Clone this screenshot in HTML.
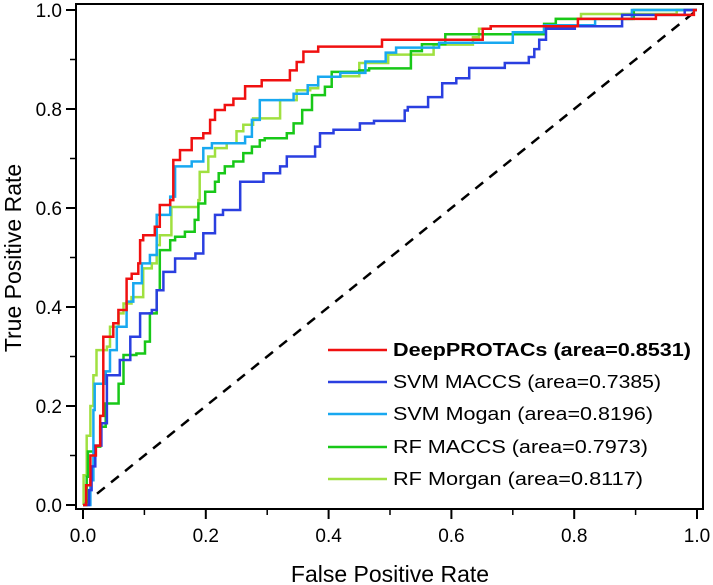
<!DOCTYPE html>
<html><head><meta charset="utf-8"><style>
body{margin:0;background:#fff;}
svg{display:block;font-family:"Liberation Sans",Arial,sans-serif;}
</style></head><body>
<svg id="chart" width="713" height="585" viewBox="0 0 713 585">
<g id="axes"></g>
<g id="series"></g>
<g id="legend"></g>
</svg>
<script>
const tickValues = [0,0.2,0.4,0.6,0.8,1.0];
const tickLabels = ["0.0","0.2","0.4","0.6","0.8","1.0"];
const minorTicks = [0.1,0.3,0.5,0.7,0.9];
const seriesNames = ["DeepPROTACs (area=0.8531)","SVM MACCS (area=0.7385)","SVM Mogan (area=0.8196)","RF MACCS (area=0.7973)","RF Morgan (area=0.8117)"];
const seriesColors = ["#f01010","#2a3fe0","#18a8f0","#18c818","#a0e040"];
const redFpr = [0,0.005,0.012,0.021,0.028,0.033,0.0494,0.0576,0.071,0.0793,0.09,0.093,0.098,0.117,0.125,0.142,0.147,0.158,0.177,0.196,0.207,0.215,0.231,0.245,0.264,0.291,0.337,0.348,0.359,0.383,0.487,0.651,0.664,0.806,0.933,0.995,1];
const redTpr = [0,0.04,0.1,0.12,0.18,0.34,0.367,0.394,0.457,0.467,0.488,0.535,0.545,0.562,0.606,0.616,0.697,0.717,0.741,0.751,0.778,0.798,0.808,0.821,0.846,0.858,0.878,0.895,0.916,0.926,0.94,0.962,0.967,0.982,0.99,1,1];
const blueFpr = [0,0.01,0.014,0.02,0.03,0.039,0.06,0.077,0.093,0.112,0.12,0.131,0.15,0.183,0.196,0.215,0.228,0.256,0.294,0.321,0.332,0.378,0.386,0.408,0.451,0.474,0.524,0.529,0.562,0.585,0.608,0.629,0.687,0.726,0.735,0.743,0.754,0.801,0.878,0.98,1];
const blueTpr = [0,0.03,0.078,0.12,0.165,0.262,0.293,0.34,0.387,0.394,0.434,0.471,0.498,0.508,0.549,0.586,0.596,0.653,0.67,0.684,0.704,0.724,0.751,0.758,0.771,0.776,0.797,0.804,0.824,0.852,0.862,0.883,0.893,0.905,0.921,0.94,0.962,0.967,0.99,1,1];
const cyanFpr = [0,0.012,0.017,0.019,0.037,0.044,0.055,0.071,0.082,0.096,0.109,0.12,0.142,0.15,0.177,0.196,0.21,0.264,0.275,0.288,0.318,0.343,0.366,0.383,0.419,0.46,0.493,0.51,0.58,0.70,0.751,0.834,0.894,1];
const cyanTpr = [0,0.05,0.192,0.245,0.27,0.313,0.36,0.411,0.448,0.488,0.505,0.586,0.623,0.684,0.694,0.721,0.731,0.744,0.778,0.818,0.818,0.831,0.848,0.865,0.873,0.896,0.914,0.924,0.934,0.955,0.969,0.982,1,1];
const greenFpr = [0,0.006,0.008,0.018,0.028,0.037,0.05,0.058,0.066,0.087,0.101,0.109,0.12,0.125,0.142,0.15,0.166,0.182,0.188,0.199,0.215,0.221,0.231,0.245,0.261,0.275,0.288,0.296,0.332,0.343,0.357,0.373,0.394,0.405,0.45,0.466,0.534,0.552,0.59,0.751,0.77,0.897,1];
const greenTpr = [0,0.057,0.108,0.118,0.158,0.205,0.205,0.245,0.303,0.306,0.33,0.387,0.434,0.515,0.535,0.542,0.552,0.576,0.609,0.633,0.653,0.67,0.684,0.694,0.711,0.724,0.737,0.741,0.751,0.771,0.798,0.828,0.845,0.875,0.878,0.882,0.917,0.931,0.951,0.972,0.982,1,1];
const limeFpr = [0,0.001,0.006,0.012,0.017,0.022,0.039,0.044,0.058,0.066,0.079,0.098,0.112,0.12,0.125,0.144,0.188,0.19,0.204,0.215,0.234,0.25,0.261,0.277,0.305,0.321,0.348,0.37,0.383,0.419,0.45,0.497,0.571,0.635,0.645,0.664,0.77,0.811,0.967,1];
const limeTpr = [0,0.06,0.14,0.2,0.262,0.313,0.32,0.36,0.387,0.407,0.42,0.478,0.488,0.525,0.545,0.602,0.616,0.673,0.704,0.721,0.731,0.755,0.768,0.781,0.781,0.818,0.838,0.842,0.865,0.866,0.893,0.91,0.93,0.945,0.962,0.967,0.982,0.992,1,1];
const seriesFpr = [redFpr,blueFpr,cyanFpr,greenFpr,limeFpr];
const seriesTpr = [redTpr,blueTpr,cyanTpr,greenTpr,limeTpr];
const seriesKeys = ["deepprotacs","svm-maccs","svm-morgan","rf-maccs","rf-morgan"];

const NS="http://www.w3.org/2000/svg";
const X0=83,X1=697,Y0=505,Y1=10;
function xs(v){return X0+(X1-X0)*v;}
function ys(v){return Y0-(Y0-Y1)*v;}
function mk(tag,attrs,parent){const e=document.createElementNS(NS,tag);for(const k in attrs)e.setAttribute(k,attrs[k]);parent.appendChild(e);return e;}
const axes=document.getElementById('axes');
const frame=mk('rect',{x:76,y:4,width:627,height:505,fill:'none',stroke:'#000','stroke-width':2},axes);


tickValues.forEach((v,i)=>{
  const tx=mk('line',{x1:xs(v),x2:xs(v),y1:509,y2:519,stroke:'#000','stroke-width':2},axes);
  
  
  const lx=mk('text',{x:xs(v),y:542,'text-anchor':'middle','font-size':19},axes);
  lx.textContent=tickLabels[i];
  
  
  const ty=mk('line',{x1:66,x2:76,y1:ys(v),y2:ys(v),stroke:'#000','stroke-width':2},axes);
  
  
  const ly=mk('text',{x:62,y:ys(v)+7,'text-anchor':'end','font-size':19},axes);
  ly.textContent=tickLabels[i];
  
  
});
minorTicks.forEach(v=>{
  const a=mk('line',{x1:xs(v),x2:xs(v),y1:509,y2:515,stroke:'#000','stroke-width':1.5},axes);
  
  
  const b=mk('line',{x1:70,x2:76,y1:ys(v),y2:ys(v),stroke:'#000','stroke-width':1.5},axes);
  
  
});
const xt=mk('text',{x:390,y:582,'text-anchor':'middle','font-size':23},axes);
xt.textContent='False Positive Rate';


const yt=mk('text',{x:0,y:0,'text-anchor':'middle','font-size':23,transform:'translate(21,258) rotate(-90)'},axes);
yt.textContent='True Positive Rate';



const ser=document.getElementById('series');
const diag=mk('line',{x1:xs(0),y1:ys(0),x2:xs(1),y2:ys(1),stroke:'#000','stroke-width':2.5,'stroke-dasharray':'10,8'},ser);


for(let s=seriesFpr.length-1;s>=0;s--){
  const f=seriesFpr[s],t=seriesTpr[s];
  let pts=[];
  for(let i=0;i<f.length;i++){
    pts.push(xs(f[i]).toFixed(1)+','+ys(t[i]).toFixed(1));
    if(i<f.length-1) pts.push(xs(f[i+1]).toFixed(1)+','+ys(t[i]).toFixed(1));
  }
  const pl=mk('polyline',{points:pts.join(' '),fill:'none',stroke:seriesColors[s],'stroke-width':2.5,'stroke-linejoin':'miter'},ser);
  
  
}
const leg=document.getElementById('legend');
const legRows=[350,382,414,447,479];
const legWidths=[298,268,260,255,250];
seriesNames.forEach((n,i)=>{
  const y=legRows[i];
  const l=mk('line',{x1:328,x2:387,y1:y,y2:y,stroke:seriesColors[i],'stroke-width':2.5},leg);
  
  
  const t=mk('text',{x:393,y:y+6,'font-size':18,'font-weight':i===0?'bold':'normal',textLength:legWidths[i],lengthAdjust:'spacingAndGlyphs'},leg);
  t.textContent=n;
  
  
});
</script>
</body></html>
